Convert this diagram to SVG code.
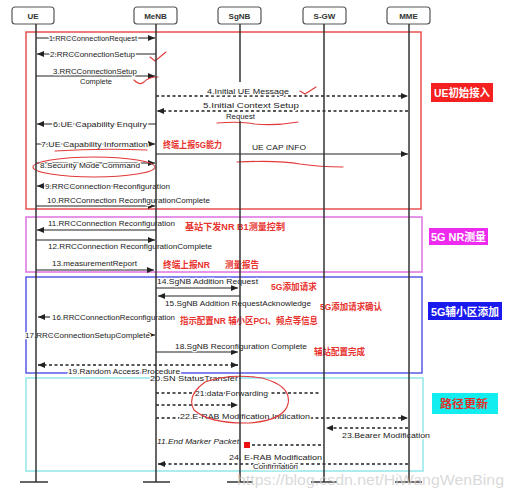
<svg xmlns="http://www.w3.org/2000/svg" width="513" height="494" viewBox="0 0 513 494">
<defs>
<marker id="ah" markerUnits="userSpaceOnUse" markerWidth="7" markerHeight="6" refX="7" refY="3" orient="auto"><path d="M0,0 L7,3 L0,6 z" fill="#222"/></marker>
<marker id="as" markerUnits="userSpaceOnUse" markerWidth="7" markerHeight="6" refX="0" refY="3" orient="auto"><path d="M7,0 L0,3 L7,6 z" fill="#222"/></marker>
<style>
.m{font-family:"Liberation Sans","DejaVu Sans",sans-serif;font-size:8px;fill:#222;paint-order:stroke;stroke:#fff;stroke-width:2.5px;stroke-linejoin:round}
.i{font-style:italic}
.r{font-family:"Liberation Sans","Noto Sans CJK SC",sans-serif;font-size:9.5px;font-weight:bold;fill:#e8332f}
.h{font-family:"Liberation Sans","DejaVu Sans",sans-serif;font-size:8px;font-weight:bold;fill:#333;text-anchor:middle}
.box{fill:#fff;stroke:#555;stroke-width:1.2}
.ll{stroke:#333;stroke-width:1.5;fill:none}
.c{stroke:#222;stroke-width:1.1;fill:none}
.d{stroke:#222;stroke-width:1.3;fill:none;stroke-dasharray:3 2.5}
.lab{font-family:"Liberation Sans","Noto Sans CJK SC",sans-serif;font-weight:bold;font-size:11px}
.pen{stroke:#e23a3a;stroke-width:1.1;fill:none;stroke-linecap:round}
</style>
</defs>
<rect width="513" height="494" fill="#fff"/>

<g id="frames" fill="none" stroke-width="1.5">
<rect x="26" y="32" width="395" height="177" stroke="#e85050"/>
<rect x="26" y="217" width="396" height="55" stroke="#e070e0"/>
<rect x="26" y="277" width="396" height="96" stroke="#5a5ae6"/>
<rect x="26" y="378" width="397" height="93" stroke="#90e8ea"/>
</g>

<g id="phase-labels">
<g id="label-init"><rect x="431" y="83" width="62" height="19" fill="#f52020"/><text class="lab" x="434" y="97" fill="#fff" textLength="56" lengthAdjust="spacingAndGlyphs">UE初始接入</text></g>
<g id="label-nr"><rect x="429" y="228" width="59" height="17" fill="#ee2aee"/><text class="lab" x="431" y="241" fill="#fff" textLength="55" lengthAdjust="spacingAndGlyphs">5G NR测量</text></g>
<g id="label-scg"><rect x="428" y="302" width="74" height="18" fill="#1a1aee"/><text class="lab" x="431" y="315.5" fill="#fff" textLength="68" lengthAdjust="spacingAndGlyphs">5G辅小区添加</text></g>
<g id="label-path"><rect x="432" y="393" width="66" height="21" fill="#12eef0"/><text class="lab" x="440" y="408" fill="#e0302a" textLength="48" lengthAdjust="spacingAndGlyphs">路径更新</text></g>
</g>

<g id="connectors">
<line class="c" x1="36" y1="38" x2="155" y2="38" marker-end="url(#ah)"/>
<line class="c" x1="156" y1="54" x2="37" y2="54" marker-end="url(#ah)"/>
<line class="c" x1="36" y1="76" x2="155" y2="76" marker-end="url(#ah)"/>
<line class="d" x1="156" y1="96" x2="408" y2="96" marker-end="url(#ah)"/>
<line class="d" x1="408" y1="111" x2="157" y2="111" marker-end="url(#ah)"/>
<line class="c" x1="156" y1="124" x2="37" y2="124" marker-end="url(#ah)"/>
<line class="c" x1="36" y1="144" x2="155" y2="144" marker-end="url(#ah)"/>
<line class="c" x1="156" y1="154" x2="408" y2="154" marker-end="url(#ah)"/>
<line class="c" x1="36" y1="163" x2="155" y2="163" marker-end="url(#ah)"/>
<line class="c" x1="156" y1="186" x2="37" y2="186" marker-end="url(#ah)"/>
<line class="c" x1="36" y1="206" x2="155" y2="206" marker-end="url(#ah)"/>
<line class="c" x1="156" y1="230" x2="37" y2="230" marker-end="url(#ah)"/>
<line class="c" x1="36" y1="240" x2="155" y2="240" marker-end="url(#ah)"/>
<line class="c" x1="36" y1="270" x2="154" y2="270" marker-end="url(#ah)"/>
<line class="c" x1="156" y1="288" x2="238" y2="288" marker-end="url(#ah)"/>
<line class="c" x1="240" y1="296" x2="158" y2="296" marker-end="url(#ah)"/>
<line class="c" x1="50" y1="317" x2="38" y2="317" marker-end="url(#ah)"/>
<line class="c" x1="36" y1="335" x2="155" y2="335" marker-end="url(#ah)"/>
<line class="c" x1="156" y1="352" x2="238" y2="352" marker-end="url(#ah)"/>
<line class="d" x1="38" y1="365" x2="238" y2="365" marker-start="url(#as)" marker-end="url(#ah)"/>
<line class="d" x1="156" y1="393" x2="320" y2="393"/>
<line class="d" x1="156" y1="405" x2="238" y2="405" marker-end="url(#ah)"/>
<line class="d" x1="156" y1="418" x2="408" y2="418" marker-end="url(#ah)"/>
<line class="d" x1="408" y1="428" x2="326" y2="428" marker-end="url(#ah)"/>
<line class="d" x1="252" y1="445" x2="324" y2="445"/>
<line class="d" x1="408" y1="464" x2="158" y2="464" marker-end="url(#ah)"/>
</g>

<g id="message-labels">
<text class="m" x="49" y="41" textLength="88" lengthAdjust="spacingAndGlyphs">1.RRCConnectionRequest</text>
<text class="m" x="50" y="57" textLength="85" lengthAdjust="spacingAndGlyphs">2.RRCConnectionSetup</text>
<text class="m" x="53" y="74" textLength="84" lengthAdjust="spacingAndGlyphs">3.RRCConnectionSetup</text>
<text class="m" x="80" y="84" textLength="32" lengthAdjust="spacingAndGlyphs">Complete</text>
<text class="m" x="207" y="94" textLength="82" lengthAdjust="spacingAndGlyphs">4.Initial UE Message</text>
<text class="m" x="203" y="108" textLength="96" lengthAdjust="spacingAndGlyphs">5.Initial Context Setup</text>
<text class="m" x="226" y="119" textLength="29" lengthAdjust="spacingAndGlyphs">Request</text>
<text class="m" x="53" y="127" textLength="94" lengthAdjust="spacingAndGlyphs">6.UE Capability Enquiry</text>
<text class="m" x="41" y="147" textLength="107" lengthAdjust="spacingAndGlyphs">7.UE Capability Information</text>
<text class="m" x="252" y="150" textLength="54" lengthAdjust="spacingAndGlyphs">UE CAP INFO</text>
<text class="m" x="40" y="168" textLength="100" lengthAdjust="spacingAndGlyphs">8.Security Mode Command</text>
<text class="m" x="45" y="189" textLength="125" lengthAdjust="spacingAndGlyphs">9.RRCConnection Reconfiguration</text>
<text class="m" x="47" y="203" textLength="163" lengthAdjust="spacingAndGlyphs">10.RRCConnection ReconfigurationComplete</text>
<text class="m" x="48" y="226" textLength="127" lengthAdjust="spacingAndGlyphs">11.RRCConnection Reconfiguration</text>
<text class="m" x="48" y="249" textLength="164" lengthAdjust="spacingAndGlyphs">12.RRCConnection ReconfigurationComplete</text>
<text class="m" x="52" y="266" textLength="85" lengthAdjust="spacingAndGlyphs">13.measurementReport</text>
<text class="m" x="157" y="284" textLength="101" lengthAdjust="spacingAndGlyphs">14.SgNB Addition Request</text>
<text class="m" x="165" y="306" textLength="146" lengthAdjust="spacingAndGlyphs">15.SgNB Addition RequestAcknowledge</text>
<text class="m" x="52" y="320" textLength="123" lengthAdjust="spacingAndGlyphs">16.RRCConnectionReconfiguration</text>
<text class="m" x="25" y="338" textLength="125" lengthAdjust="spacingAndGlyphs">17.RRCConnectionSetupComplete</text>
<text class="m" x="175" y="349" textLength="132" lengthAdjust="spacingAndGlyphs">18.SgNB Reconfiguration Complete</text>
<text class="m" x="68" y="374" textLength="112" lengthAdjust="spacingAndGlyphs">19.Random Access Procedure</text>
<text class="m" x="150" y="381" textLength="88" lengthAdjust="spacingAndGlyphs">20.SN StatusTransfer</text>
<text class="m" x="195" y="396" textLength="73" lengthAdjust="spacingAndGlyphs">21.data Forwarding</text>
<text class="m" x="180" y="419" textLength="130" lengthAdjust="spacingAndGlyphs">22.E-RAB Modification Indication</text>
<text class="m" x="342" y="438" textLength="88" lengthAdjust="spacingAndGlyphs">23.Bearer Modification</text>
<text class="m i" x="157" y="444" textLength="82" lengthAdjust="spacingAndGlyphs">11.End Marker Packet</text>
<text class="m" x="229" y="460" textLength="93" lengthAdjust="spacingAndGlyphs">24. E-RAB Modification</text>
<text class="m" x="253" y="469" textLength="45" lengthAdjust="spacingAndGlyphs">Confirmation</text>
</g>

<g id="annotations">
<text class="r" x="163" y="148" textLength="59" lengthAdjust="spacingAndGlyphs">终端上报5G能力</text>
<text class="r" x="185" y="230" textLength="100" lengthAdjust="spacingAndGlyphs">基站下发NR B1测量控制</text>
<text class="r" x="163" y="268" textLength="47" lengthAdjust="spacingAndGlyphs">终端上报NR</text>
<text class="r" x="225" y="268" textLength="34" lengthAdjust="spacingAndGlyphs">测量报告</text>
<text class="r" x="271" y="290" textLength="46" lengthAdjust="spacingAndGlyphs">5G添加请求</text>
<text class="r" x="320" y="310" textLength="62" lengthAdjust="spacingAndGlyphs">5G添加请求确认</text>
<text class="r" x="180" y="324" textLength="138" lengthAdjust="spacingAndGlyphs">指示配置NR 辅小区PCI、频点等信息</text>
<text class="r" x="314" y="355" textLength="51" lengthAdjust="spacingAndGlyphs">辅站配置完成</text>
<rect x="244" y="442" width="6" height="6" fill="#ee1111"/>
<path class="pen" d="M150,57 L155,61 L166,52"/>
<path class="pen" d="M134,80 Q140,86 144,82 Q148,77 158,77"/>
<path class="pen" d="M300,91 L305,94 L316,87"/>
<path class="pen" d="M217,123 Q240,121 255,124 Q275,126 298,122"/>
<path class="pen" d="M55,151 Q100,148 147,150"/>
<path class="pen" d="M237,162 Q280,160 300,164 Q320,167 343,167"/>
<ellipse class="pen" cx="94" cy="167" rx="61" ry="10"/>
<path class="pen" d="M205,382 Q230,373 262,378 Q292,386 288,404 Q284,420 250,423 Q210,424 194,410 Q186,396 205,382"/>
</g>

<g id="UE"><rect class="box" x="12" y="7" width="42" height="17" rx="3"/><text class="h" x="33" y="18.5">UE</text><line class="ll" x1="36" y1="24" x2="36" y2="482"/><line class="ll" x1="20" y1="482" x2="48" y2="482"/></g>
<g id="MeNB"><rect class="box" x="134" y="7" width="43" height="17" rx="3"/><text class="h" x="155.5" y="18.5">MeNB</text><line class="ll" x1="156" y1="24" x2="156" y2="482"/><line class="ll" x1="143" y1="482" x2="170" y2="482"/></g>
<g id="SgNB"><rect class="box" x="218" y="7" width="43" height="17" rx="3"/><text class="h" x="239.5" y="18.5">SgNB</text><line class="ll" x1="240" y1="24" x2="240" y2="82"/><line class="ll" x1="240" y1="121" x2="240" y2="482"/><line class="ll" x1="227" y1="482" x2="253" y2="482"/></g>
<g id="S-GW"><rect class="box" x="303" y="7" width="43" height="17" rx="3"/><text class="h" x="324.5" y="18.5">S-GW</text><line class="ll" x1="324" y1="24" x2="324" y2="482"/><line class="ll" x1="311" y1="482" x2="337" y2="482"/></g>
<g id="MME"><rect class="box" x="387" y="7" width="43" height="17" rx="3"/><text class="h" x="408.5" y="18.5">MME</text><line class="ll" x1="409" y1="24" x2="409" y2="482"/><line class="ll" x1="395" y1="482" x2="422" y2="482"/></g>

<text x="237" y="485" font-family="Liberation Sans,sans-serif" font-size="14" fill="#cfcfcf" fill-opacity="0.8" textLength="267" lengthAdjust="spacingAndGlyphs">https://blog.csdn.net/HiWangWenBing</text>
</svg>
